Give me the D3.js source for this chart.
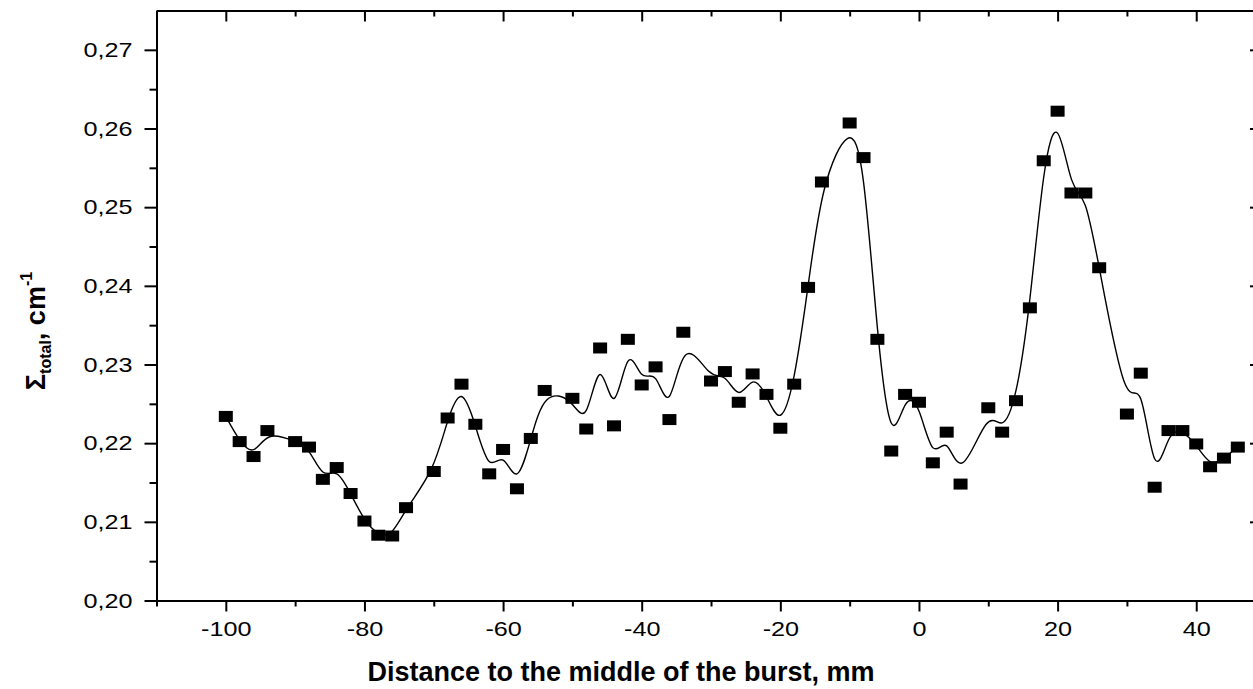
<!DOCTYPE html>
<html>
<head>
<meta charset="utf-8">
<script src="https://cdn.jsdelivr.net/npm/d3@7"></script>
<style>
  html, body { margin: 0; padding: 0; background: #fff; }
  svg { display: block; }
  text { font-family: "Liberation Sans", Arial, sans-serif; fill: #000; }
</style>
</head>
<body>
<svg id="chart" width="1253" height="689"></svg>
<script>
// ---- data ----
const distance = [-100,-98,-96,-94,-90,-88,-86,-84,-82,-80,-78,-76,-74,-70,-68,-66,-64,-62,-60,-58,-56,-54,-50,-48,-46,-44,-42,-40,-38,-36,-34,-30,-28,-26,-24,-22,-20,-18,-16,-14,-10,-8,-6,-4,-2,0,2,4,6,10,12,14,16,18,20,22,24,26,30,32,34,36,38,40,42,44,46];
const sigmaTotal = [0.2234,0.2202,0.2183,0.2216,0.2202,0.2195,0.2154,0.2169,0.2136,0.2101,0.2083,0.2082,0.2118,0.2164,0.2232,0.2275,0.2224,0.2161,0.2192,0.2142,0.2206,0.2267,0.2257,0.2218,0.2321,0.2222,0.2332,0.2274,0.2297,0.2230,0.2341,0.2279,0.2291,0.2252,0.2288,0.2262,0.2219,0.2275,0.2398,0.2532,0.2607,0.2563,0.2332,0.2190,0.2262,0.2252,0.2175,0.2214,0.2148,0.2245,0.2214,0.2254,0.2372,0.2559,0.2622,0.2518,0.2518,0.2423,0.2237,0.2289,0.2144,0.2216,0.2216,0.2199,0.2170,0.2181,0.2195];
const xTicks = [-100,-80,-60,-40,-20,0,20,40];
const xMinorTicks = [-110,-90,-70,-50,-30,-10,10,30];
const yTicks = [0.20,0.21,0.22,0.23,0.24,0.25,0.26,0.27];
const yTickLabels = ["0,20","0,21","0,22","0,23","0,24","0,25","0,26","0,27"];
const yMinorTicks = [0.205,0.215,0.225,0.235,0.245,0.255,0.265];
const xTitle = "Distance to the middle of the burst, mm";

// ---- layout ----
const svg = d3.select("#chart");
const L = 156.5, R = 1260, T = 10.5, B = 600.5;
const x = d3.scaleLinear().domain([-110, 49.2]).range([L, R]);
const y = d3.scaleLinear().domain([0.20, 0.275]).range([B, T]);

const points = distance.map((d, i) => ({ x: d, y: sigmaTotal[i] }));

// curve (B-spline through the measured points)
const line = d3.line().x(d => x(d.x)).y(d => y(d.y)).curve(d3.curveBasis);
svg.append("path").datum(points)
  .attr("d", line)
  .attr("fill", "none")
  .attr("stroke", "#000")
  .attr("stroke-width", 1.4);

// markers
svg.append("g").selectAll("rect").data(points).join("rect")
  .attr("x", d => x(d.x) - 7)
  .attr("y", d => y(d.y) - 5.5)
  .attr("width", 14)
  .attr("height", 11)
  .attr("fill", "#000");

// ---- axes ----
function styleAxis(g) {
  g.selectAll("path.domain").attr("stroke", "#000").attr("stroke-width", 2);
  g.selectAll("line").attr("stroke", "#000").attr("stroke-width", 2);
}
function styleLabels(g) {
  g.selectAll("text")
    .attr("font-size", 21)
    .attr("font-family", "Liberation Sans, Arial, sans-serif")
    .each(function () {
      const w = this.getComputedTextLength();
      d3.select(this).attr("textLength", w * 1.2).attr("lengthAdjust", "spacingAndGlyphs");
    });
}
// bottom
svg.append("g").attr("transform", `translate(0,${B})`)
  .call(d3.axisBottom(x).tickValues(xTicks).tickSize(11).tickSizeOuter(0).tickPadding(10).tickFormat(d => d))
  .call(styleAxis).call(styleLabels);
svg.append("g").attr("transform", `translate(0,${B})`)
  .call(d3.axisBottom(x).tickValues(xMinorTicks).tickSize(6).tickSizeOuter(0).tickFormat(""))
  .call(styleAxis).select("path.domain").remove();
// top
svg.append("g").attr("transform", `translate(0,${T})`)
  .call(d3.axisBottom(x).tickValues(xTicks).tickSize(11).tickSizeOuter(0).tickFormat(""))
  .call(styleAxis);
svg.append("g").attr("transform", `translate(0,${T})`)
  .call(d3.axisBottom(x).tickValues(xMinorTicks).tickSize(6).tickSizeOuter(0).tickFormat(""))
  .call(styleAxis).select("path.domain").remove();
// left
svg.append("g").attr("transform", `translate(${L},0)`)
  .call(d3.axisLeft(y).tickValues(yTicks).tickSize(12).tickSizeOuter(0).tickPadding(12)
    .tickFormat((d, i) => yTickLabels[i]))
  .call(styleAxis).call(styleLabels);
svg.append("g").attr("transform", `translate(${L},0)`)
  .call(d3.axisLeft(y).tickValues(yMinorTicks).tickSize(7).tickSizeOuter(0).tickFormat(""))
  .call(styleAxis).select("path.domain").remove();
// right
svg.append("g").attr("transform", `translate(${R},0)`)
  .call(d3.axisRight(y).tickValues(yTicks).tickSize(-10).tickSizeOuter(0).tickFormat(""))
  .call(styleAxis);
svg.append("g").attr("transform", `translate(${R},0)`)
  .call(d3.axisRight(y).tickValues(yMinorTicks).tickSize(-6).tickSizeOuter(0).tickFormat(""))
  .call(styleAxis).select("path.domain").remove();

// ---- titles ----
svg.append("text")
  .attr("x", 621).attr("y", 681)
  .attr("text-anchor", "middle")
  .attr("font-size", 27).attr("font-weight", "bold")
  .text(xTitle);

const yt = svg.append("text")
  .attr("transform", "translate(45,331) rotate(-90)")
  .attr("text-anchor", "middle")
  .attr("font-weight", "bold");
yt.append("tspan").attr("font-size", 27).text("\u03A3");
yt.append("tspan").attr("font-size", 16).attr("dy", 6).text("total");
yt.append("tspan").attr("font-size", 27).attr("dy", -6).text(", cm");
yt.append("tspan").attr("font-size", 16).attr("dy", -13).text("-1");
</script>
</body>
</html>
